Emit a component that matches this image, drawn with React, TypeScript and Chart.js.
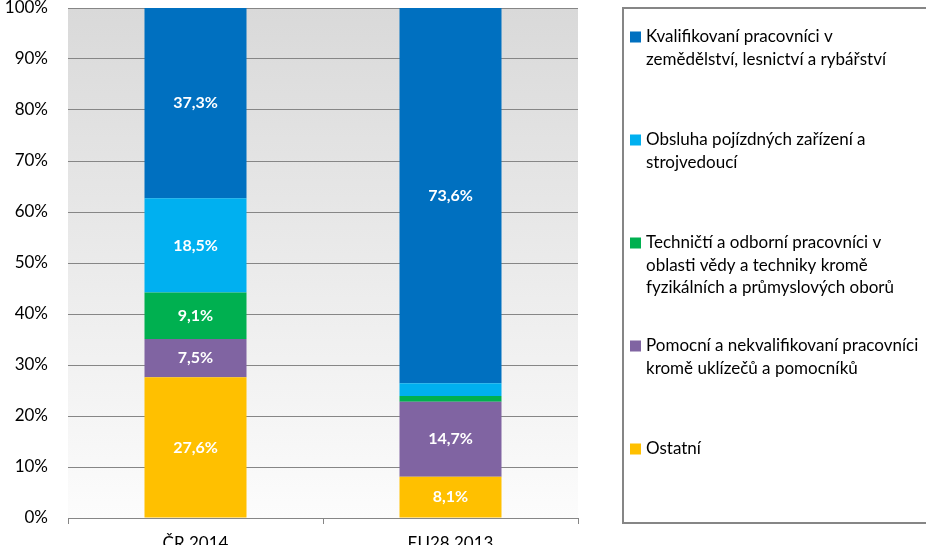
import React, { useEffect, useRef } from "react";
import { Chart, registerables } from "chart.js";

Chart.register(...registerables);

const categories = ["ČR 2014", "EU28 2013"];
const ostatni = [27.6, 8.1];
const pomocni = [7.5, 14.7];
const technicti = [9.1, 1.1];
const obsluha = [18.5, 2.5];
const kvalifikovani = [37.3, 73.6];

const seriesNames = [
  "Ostatní",
  "Pomocní a nekvalifikovaní pracovníci kromě uklízečů a pomocníků",
  "Techničtí a odborní pracovníci v oblasti vědy a techniky kromě fyzikálních a průmyslových oborů",
  "Obsluha pojízdných zařízení a strojvedoucí",
  "Kvalifikovaní pracovníci v zemědělství, lesnictví a rybářství",
];
const legendLines = [
  ["Kvalifikovaní pracovníci v", "zemědělství, lesnictví a rybářství"],
  ["Obsluha pojízdných zařízení a", "strojvedoucí"],
  ["Techničtí a odborní pracovníci v", "oblasti vědy a techniky kromě", "fyzikálních a průmyslových oborů"],
  ["Pomocní a nekvalifikovaní pracovníci", "kromě uklízečů a pomocníků"],
  ["Ostatní"],
];
const colors = ["#FFC000", "#8064A2", "#00B050", "#00B0F0", "#0070C0"];
const yTicks = [0, 10, 20, 30, 40, 50, 60, 70, 80, 90, 100];

const FONT = "Lato, 'Noto Sans', sans-serif";

const bgPlugin = {
  id: "bgGradient",
  beforeDraw(chart: any) {
    const { ctx, chartArea } = chart;
    const g = ctx.createLinearGradient(0, chartArea.top, 0, chartArea.bottom);
    g.addColorStop(0, "#d9d9d9");
    g.addColorStop(1, "#fcfcfc");
    ctx.save();
    ctx.fillStyle = g;
    ctx.fillRect(chartArea.left, chartArea.top, chartArea.right - chartArea.left, chartArea.bottom - chartArea.top);
    ctx.restore();
  },
};

const labelPlugin = {
  id: "segLabels",
  afterDatasetsDraw(chart: any) {
    const { ctx } = chart;
    ctx.save();
    ctx.fillStyle = "#ffffff";
    ctx.font = `bold 16px ${FONT}`;
    ctx.textAlign = "center";
    ctx.textBaseline = "middle";
    chart.data.datasets.forEach((ds: any, di: number) => {
      const meta = chart.getDatasetMeta(di);
      meta.data.forEach((el: any, i: number) => {
        const v = ds.data[i];
        if (v < 5) return;
        const p = el.getProps(["x", "y", "base"], true);
        ctx.fillText(v.toFixed(1).replace(".", ",") + "%", p.x, (p.y + p.base) / 2);
      });
    });
    ctx.restore();
  },
};

const legendPlugin = {
  id: "customLegend",
  afterDraw(chart: any) {
    const { ctx } = chart;
    ctx.save();
    ctx.strokeStyle = "#868686";
    ctx.lineWidth = 2;
    ctx.strokeRect(623, 8, 320, 515);
    ctx.font = `17px ${FONT}`;
    ctx.textBaseline = "middle";
    ctx.textAlign = "left";
    const startY = 37;
    const step = 103;
    legendLines.forEach((lines, i) => {
      const y = startY + i * step;
      ctx.fillStyle = colors[colors.length - 1 - i];
      ctx.fillRect(630, y - 5.5, 11, 11);
      ctx.fillStyle = "#000000";
      lines.forEach((t, j) => {
        ctx.fillText(t, 646, y + j * 22.5);
      });
    });
    ctx.restore();
  },
};

export default function App() {
  const ref = useRef<HTMLCanvasElement>(null);
  useEffect(() => {
    if (!ref.current) return;
    const data = [ostatni, pomocni, technicti, obsluha, kvalifikovani];
    const chart = new Chart(ref.current, {
      type: "bar",
      data: {
        labels: categories,
        datasets: data.map((d, i) => ({
          label: seriesNames[i],
          data: d,
          backgroundColor: colors[i],
          borderWidth: 0,
          categoryPercentage: 1,
          barPercentage: 0.4,
        })),
      },
      options: {
        responsive: false,
        animation: false,
        layout: { padding: { top: 8, right: 348, left: 0, bottom: 0 } },
        plugins: { legend: { display: false }, tooltip: { enabled: false } },
        scales: {
          x: {
            stacked: true,
            grid: {
              display: true,
              drawOnChartArea: false,
              drawTicks: true,
              tickLength: 6,
              color: "#868686",
              offset: true,
            },
            border: { display: true, color: "#868686", width: 1 },
            ticks: { color: "#000", font: { family: FONT, size: 17 }, padding: 9 },
            afterFit: (s: any) => {
              s.height = 27;
              s.paddingLeft = 0;
              s.paddingRight = 0;
            },
          },
          y: {
            stacked: true,
            min: 0,
            max: 100,
            afterBuildTicks: (s: any) => {
              s.ticks = yTicks.map((v) => ({ value: v }));
            },
            grid: { color: "#868686", drawTicks: false, lineWidth: 1 },
            border: { display: false },
            ticks: {
              color: "#000",
              font: { family: FONT, size: 17 },
              padding: 20,
              callback: (v: any) => v + "%",
            },
            afterFit: (s: any) => {
              s.width = 68;
              s.paddingTop = 0;
              s.paddingBottom = 0;
            },
          },
        },
      },
      plugins: [bgPlugin, labelPlugin, legendPlugin],
    });
    return () => chart.destroy();
  }, []);
  return (
    <div style={{ position: "absolute", left: 0, top: 0, width: 926, height: 545, background: "#fff" }}>
      <canvas ref={ref} width={926} height={545} />
    </div>
  );
}
